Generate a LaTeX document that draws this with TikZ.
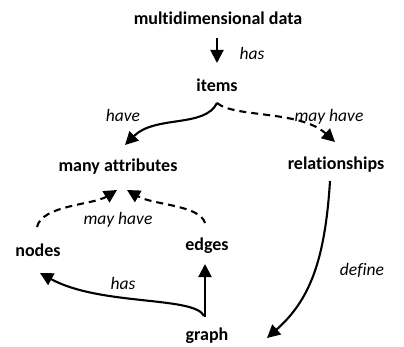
\documentclass[tikz,border=0pt]{standalone}
\usepackage{fontspec}
\setmainfont{Carlito}[Ligatures={NoCommon}]
\usetikzlibrary{arrows.meta,calc}
\begin{document}
\begin{tikzpicture}[x=1pt,y=-1pt,
  concept/.style={font=\bfseries\fontsize{18}{21}\selectfont, inner sep=0pt},
  lbl/.style={font=\itshape\fontsize{17.5}{20}\selectfont, inner sep=0pt},
  conn/.style={line width=2.1pt, -{Triangle[length=13pt,width=13pt]}},
  dconn/.style={conn, dash pattern=on 7pt off 5pt}]
\useasboundingbox (0,0) rectangle (404,347);
% concepts
\node[concept] (md) at (218,18) {multidimensional data};
\node[concept] (items) at (217,85) {items};
\node[concept] (ma) at (118,167) {many attributes};
\node[concept] (rel) at (336,165) {relationships};
\node[concept] (nodes) at (38,250) {nodes};
\node[concept] (edges) at (207,246) {edges};
\node[concept] (graph) at (207,336) {graph};
% labels
\node[lbl] (lhas) at (252,53) {has};
\node[lbl] (lhave) at (123,115) {have};
\node[lbl] (lmay1) at (329,117) {may have};
\node[lbl] (lmay2) at (118,220) {may have};
\node[lbl] (lhas2) at (123,283) {has};
\node[lbl] (ldef) at (362,270) {define};
% connectors
\draw[conn] ($(md.center)+(-1,20)$) -- ($(items.center)+(0,-22)$);
\draw[conn] ($(items.center)+(0,18)$) .. controls ($(items.center)+(-12,43)$) and ($(ma.center)+(37,-52)$) .. ($(ma.center)+(7,-22)$);
\draw[dconn] ($(items.center)+(0,18)$) .. controls ($(items.center)+(18,33)$) and ($(rel.center)+(-36,-55)$) .. ($(rel.center)+(-1,-23)$);
\draw[dconn] ($(nodes.center)+(-1,-23)$) .. controls ($(nodes.center)+(4,-45)$) and ($(ma.center)+(-25,38)$) .. ($(ma.center)+(-1,23)$);
\draw[dconn] ($(edges.center)+(-2,-23)$) .. controls ($(edges.center)+(-7,-41)$) and ($(ma.center)+(35,38)$) .. ($(ma.center)+(9,23)$);
\draw[conn] ($(graph.center)+(-2,-19)$) -- ($(edges.center)+(-2,18)$);
\draw[conn] ($(graph.center)+(-3,-20)$) .. controls ($(graph.center)+(-12,-40)$) and ($(nodes.center)+(62,56)$) .. ($(nodes.center)+(2,23)$);
\draw[conn] ($(rel.center)+(-6,16)$) .. controls ($(rel.center)+(-11,95)$) and ($(graph.center)+(103,-36)$) .. ($(graph.center)+(60,2)$);
\end{tikzpicture}
\end{document}
